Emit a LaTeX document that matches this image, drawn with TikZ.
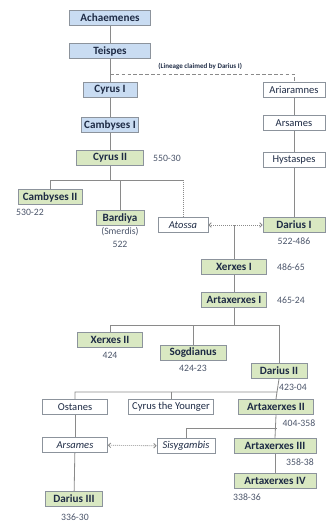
\documentclass[tikz,border=0pt]{standalone}
\usepackage{fontspec}
\setmainfont{Carlito}
\usetikzlibrary{arrows.meta}
\definecolor{fillblue}{HTML}{C9DCF2}
\definecolor{fillgreen}{HTML}{D9E8C2}
\definecolor{edgegray}{HTML}{8C939C}
\definecolor{inknavy}{HTML}{1E2B45}
\definecolor{linegray}{HTML}{8A8A8A}
\tikzset{
  box/.style={draw=edgegray, line width=0.7pt, minimum height=0.45cm, inner sep=1pt,
    font=\fontsize{9}{10}\selectfont, text=inknavy},
  founder/.style={box, fill=fillblue, font=\fontsize{9.5}{10}\selectfont\bfseries},
  king/.style={box, fill=fillgreen, font=\fontsize{9.5}{10}\selectfont\bfseries},
  person/.style={box, fill=white},
  wife/.style={person, font=\fontsize{9}{10}\selectfont\itshape},
  reign/.style={font=\fontsize{8.3}{9}\selectfont, text=inknavy!80},
  link/.style={draw=linegray, line width=0.7pt},
  marriage/.style={link, densely dotted, {Straight Barb[length=2pt,width=4pt]}-{Straight Barb[length=2pt,width=4pt]}},
  lineage/.style={link, densely dashed}
}
\begin{document}
\begin{tikzpicture}[x=0.03cm,y=-0.03cm]
\useasboundingbox (0,0) rectangle (332,526);
% line of Teispes
\node[founder, minimum width=2.43cm] (achaemenes) at (110,18) {Achaemenes};
\node[founder, minimum width=2.43cm] (teispes) at (110,51) {Teispes};
\node[founder, minimum width=1.62cm] (cyrusI) at (110,90) {Cyrus I};
\node[founder, minimum width=1.71cm] (cambysesI) at (110,125) {Cambyses I};
\node[king, minimum width=2.01cm] (cyrusII) at (110,158) {Cyrus II};
\node[reign] (dcyrusII) at (167,158) {550-30};
\node[king, minimum width=1.92cm] (cambysesII) at (50,197) {Cambyses II};
\node[reign] (dcambysesII) at (30,212) {530-22};
\node[king, minimum width=1.44cm] (bardiya) at (120,218) {Bardiya};
\node[reign] (smerdis) at (120,232) {(Smerdis)};
\node[reign] (dbardiya) at (120,244) {522};
\node[wife, minimum width=1.5cm] (atossa) at (183,225) {Atossa};
% line of Ariaramnes
\node[person, minimum width=1.86cm] (ariaramnes) at (294,90) {Ariaramnes};
\node[person, minimum width=1.86cm] (arsamesA) at (294,123) {Arsames};
\node[person, minimum width=1.86cm] (hystaspes) at (294,160) {Hystaspes};
\node[king, minimum width=1.86cm] (dariusI) at (294,225) {Darius I};
\node[reign] (ddariusI) at (294,241) {522-486};
% descendants
\node[king, minimum width=1.95cm] (xerxesI) at (234,267) {Xerxes I};
\node[reign] (dxerxesI) at (291,267) {486-65};
\node[king, minimum width=1.95cm] (artaxerxesI) at (234,300) {Artaxerxes I};
\node[reign] (dartaxerxesI) at (291,300) {465-24};
\node[king, minimum width=1.95cm] (xerxesII) at (110,340) {Xerxes II};
\node[reign] (dxerxesII) at (110,355) {424};
\node[king, minimum width=1.98cm] (sogdianus) at (193,353) {Sogdianus};
\node[reign] (dsogdianus) at (193,368) {424-23};
\node[king, minimum width=1.68cm] (dariusII) at (279,371) {Darius II};
\node[reign] (ddariusII) at (293,387) {423-04};
\node[person, minimum width=1.95cm] (ostanes) at (75,407) {Ostanes};
\node[person, minimum width=2.55cm] (cyrusY) at (171,407) {Cyrus the Younger};
\node[king, minimum width=2.25cm] (artaxerxesII) at (276,407) {Artaxerxes II};
\node[reign] (dartaxerxesII) at (299,423) {404-358};
\node[wife, minimum width=1.95cm] (arsamesB) at (75,445) {Arsames};
\node[wife, minimum width=1.74cm] (sisygambis) at (186,446) {Sisygambis};
\node[king, minimum width=2.46cm] (artaxerxesIII) at (275,446) {Artaxerxes III};
\node[reign] (dartaxerxesIII) at (300,462) {358-38};
\node[king, minimum width=2.46cm] (artaxerxesIV) at (275,481) {Artaxerxes IV};
\node[reign] (dartaxerxesIV) at (247,497) {338-36};
\node[king, minimum width=1.71cm] (dariusIII) at (74,499) {Darius III};
\node[reign] (ddariusIII) at (75,517) {336-30};
% branch points
\coordinate (lin) at (110,74);
\coordinate (cII) at (110,180);
\coordinate (aI) at (234,325);
\coordinate (dII) at (277,392);
\coordinate (aII) at (277,428);
% connectors
\draw[link] (achaemenes) -- (teispes);
\draw[link] (teispes) -- (cyrusI);
\draw[link] (cyrusI) -- (cambysesI);
\draw[link] (cambysesI) -- (cyrusII);
\draw[lineage] (lin) -| (ariaramnes.north)
  node[pos=0.245, above=0pt, font=\fontsize{6}{7}\selectfont\bfseries, text=inknavy] (claim) {(Lineage claimed by Darius I)};
\draw[link] (ariaramnes) -- (arsamesA);
\draw[link] (arsamesA) -- (hystaspes);
\draw[link] (hystaspes) -- (dariusI);
\draw[link] (cyrusII) -- (cII);
\draw[link] (cambysesII.north) |- (atossa.north |- cII);
\draw[link] (bardiya.north) -- (bardiya.north |- cII);
\draw[link, densely dotted] (atossa.north |- cII) -- (atossa.north);
\draw[marriage] (atossa) -- (dariusI);
\draw[link] (xerxesI.north) -- (xerxesI.north |- atossa);
\draw[link] (xerxesI) -- (artaxerxesI);
\draw[link] (artaxerxesI) -- (aI);
\draw[link] (xerxesII.north) |- (aI -| dariusII.north) -- (dariusII.north);
\draw[link] (sogdianus.north) -- (sogdianus.north |- aI);
\draw[link] (dariusII.south) -- (dII);
\draw[link] (ostanes.north) |- (dII) -- (artaxerxesII.north);
\draw[link] (cyrusY.north) -- (cyrusY.north |- dII);
\draw[link] (artaxerxesII.south) -- (artaxerxesIII.north);
\draw[link] (sisygambis.north) |- (aII);
\draw[link] (artaxerxesIII) -- (artaxerxesIV);
\draw[link] (ostanes) -- (arsamesB);
\draw[link] (arsamesB) -- (dariusIII);
\draw[marriage] (arsamesB) -- (sisygambis);
\end{tikzpicture}
\end{document}
